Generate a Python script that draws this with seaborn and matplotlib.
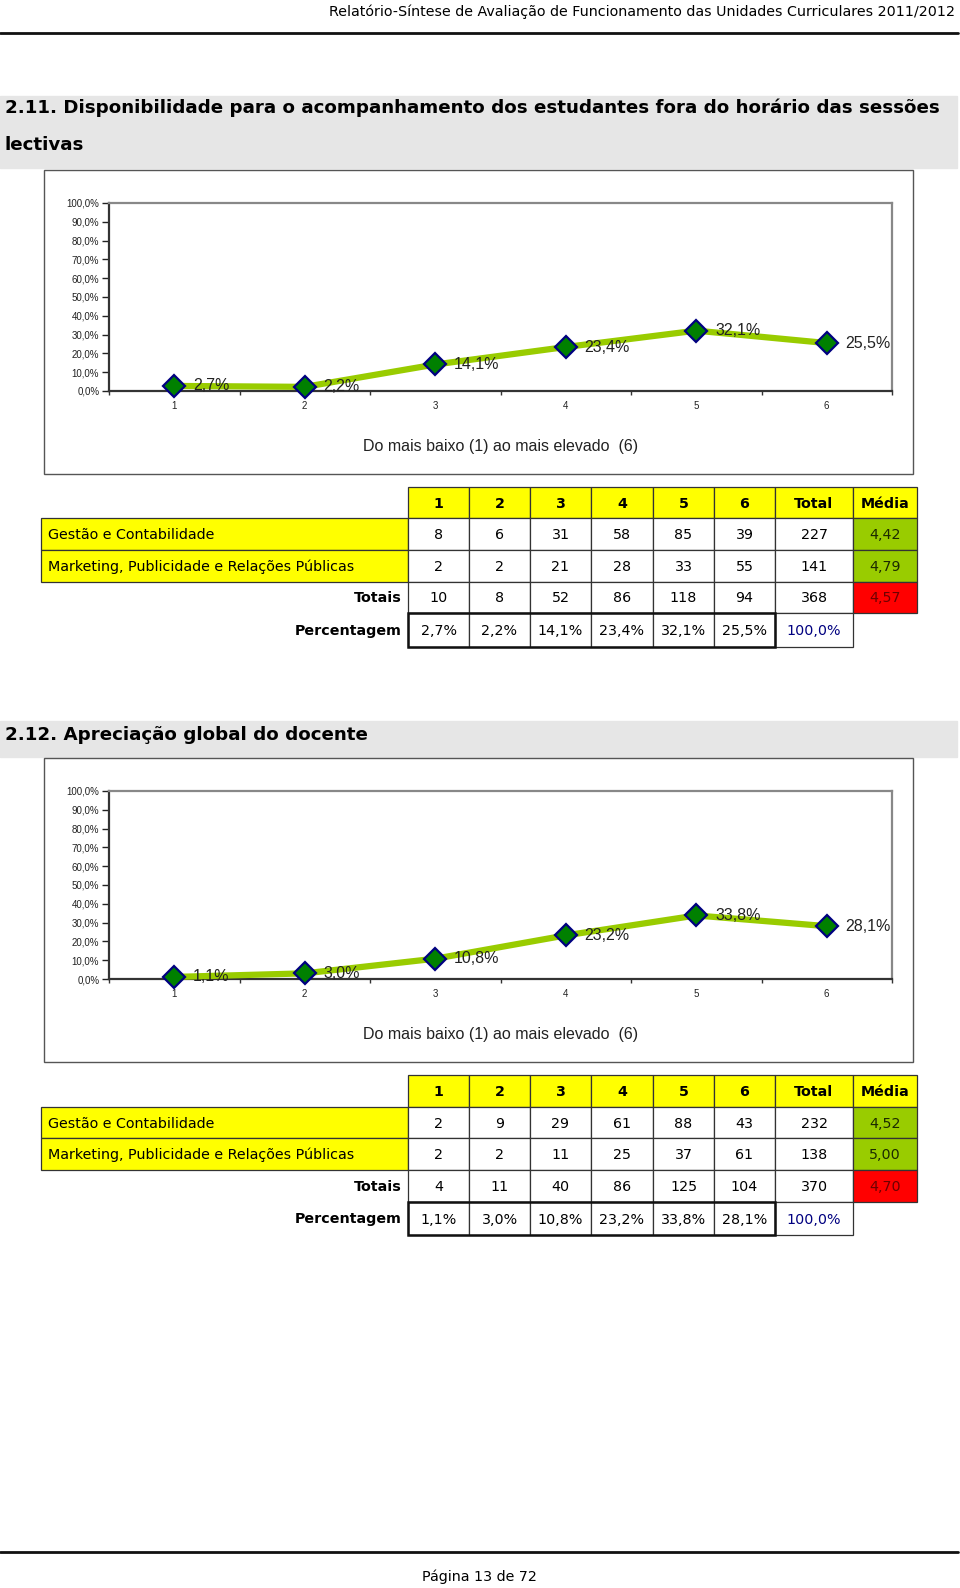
import matplotlib
matplotlib.use("Agg")
import matplotlib.pyplot as plt
import seaborn as sns
import numpy as np
import pandas as pd
from matplotlib.patches import Rectangle
from matplotlib.ticker import FuncFormatter

# ---------------- data ----------------
categories = [1, 2, 3, 4, 5, 6]
col_headers = ["1", "2", "3", "4", "5", "6", "Total", "Média"]
row_labels = ["Gestão e Contabilidade", "Marketing, Publicidade e Relações Públicas"]

# 2.11
pct_211 = [2.7, 2.2, 14.1, 23.4, 32.1, 25.5]
gc_211 = [8, 6, 31, 58, 85, 39]
gc_total_211, gc_media_211 = 227, 4.42
mp_211 = [2, 2, 21, 28, 33, 55]
mp_total_211, mp_media_211 = 141, 4.79
tot_211 = [10, 8, 52, 86, 118, 94]
tot_total_211, tot_media_211 = 368, 4.57

# 2.12
pct_212 = [1.1, 3.0, 10.8, 23.2, 33.8, 28.1]
gc_212 = [2, 9, 29, 61, 88, 43]
gc_total_212, gc_media_212 = 232, 4.52
mp_212 = [2, 2, 11, 25, 37, 61]
mp_total_212, mp_media_212 = 138, 5.00
tot_212 = [4, 11, 40, 86, 125, 104]
tot_total_212, tot_media_212 = 370, 4.70

header_text = "Relatório-Síntese de Avaliação de Funcionamento das Unidades Curriculares 2011/2012"
title_211_a = "2.11. Disponibilidade para o acompanhamento dos estudantes fora do horário das sessões"
title_211_b = "lectivas"
title_212 = "2.12. Apreciação global do docente"
xlabel_text = "Do mais baixo (1) ao mais elevado  (6)"
footer_text = "Página 13 de 72"

# ---------------- setup ----------------
sns.set_theme(style="white")
plt.rcParams["font.family"] = ["Liberation Sans", "DejaVu Sans"]

W, H = 960, 1588
fig = plt.figure(figsize=(W / 100, H / 100), dpi=100)
bg = fig.add_axes([0, 0, 1, 1], zorder=0)
bg.set_xlim(0, W)
bg.set_ylim(H, 0)
bg.axis("off")
renderer = fig.canvas.get_renderer()

TAB = "DejaVu Sans"


def fit(s, target, **kw):
    t = bg.text(0, 0, s, fontsize=10, **kw)
    w = t.get_window_extent(renderer=renderer).width
    t.remove()
    return 10 * target / w


def fmt_dec(v, nd=1):
    return f"{v:.{nd}f}".replace(".", ",")


# ---------------- header / footer ----------------
hs = fit(header_text, 626, family=TAB)
bg.text(955, 12, header_text, fontsize=hs, family=TAB, ha="right", va="center", color="#000")
bg.plot([0, 958], [33, 33], color="#111", lw=2)
bg.plot([0, 958], [1552, 1552], color="#111", lw=2)
bg.text(479, 1577, footer_text, fontsize=hs, family=TAB, ha="center", va="center", color="#000")

# ---------------- title bands ----------------
band_col = "#e6e6e6"
bg.add_patch(Rectangle((0, 96), 957, 72, color=band_col, zorder=0))
bg.add_patch(Rectangle((0, 721), 957, 36, color=band_col, zorder=0))
ts = fit(title_211_a, 937, family=TAB, weight="bold")
bg.text(5, 108, title_211_a, fontsize=ts, family=TAB, weight="bold", ha="left", va="center", color="#000")
bg.text(5, 145, title_211_b, fontsize=ts, family=TAB, weight="bold", ha="left", va="center", color="#000")
bg.text(5, 735, title_212, fontsize=ts, family=TAB, weight="bold", ha="left", va="center", color="#000")


# ---------------- charts ----------------
def draw_chart(box_top, box_bot, plot_top, plot_bot, xlabel_y, vals):
    bg.add_patch(Rectangle((44, box_top), 869, box_bot - box_top, facecolor="white",
                           edgecolor="#555", lw=1, zorder=1))
    ax = fig.add_axes([109 / W, 1 - plot_bot / H, 783 / W, (plot_bot - plot_top) / H], zorder=2)
    df = pd.DataFrame({"nivel": categories, "pct": np.array(vals) / 100})
    sns.lineplot(data=df, x="nivel", y="pct", ax=ax, color="#99CC00", lw=4.5,
                 marker="D", markersize=11, markerfacecolor="#008000",
                 markeredgecolor="#000080", markeredgewidth=1.6, clip_on=False, zorder=3)
    ax.set_xlim(0.5, 6.5)
    ax.set_ylim(0, 1)
    ax.grid(False)
    ax.set_yticks(np.linspace(0, 1, 11))
    ax.yaxis.set_major_formatter(FuncFormatter(lambda v, p: fmt_dec(v * 100) + "%"))
    ax.set_xticks(categories)
    ax.set_xticks(np.arange(0.5, 7, 1), minor=True)
    ax.tick_params(axis="y", which="major", left=True, length=5, width=1, pad=2,
                   labelsize=7, colors="#222")
    ax.tick_params(axis="x", which="major", bottom=False, length=0, pad=7, labelsize=7, colors="#222")
    ax.tick_params(axis="x", which="minor", bottom=True, length=3, width=1, color="#333")
    for side in ["left", "bottom"]:
        ax.spines[side].set_color("#333")
        ax.spines[side].set_linewidth(1.6)
    for side in ["top", "right"]:
        ax.spines[side].set_color("#888")
        ax.spines[side].set_linewidth(1.6)
    ax.set_ylabel("")
    ax.set_xlabel(xlabel_text, fontsize=11.5, color="#222")
    ax.xaxis.set_label_coords(0.5006, -(xlabel_y - plot_bot) / (plot_bot - plot_top))
    ax.xaxis.label.set_va("center")
    for x, v in zip(categories, vals):
        ax.annotate(fmt_dec(v) + "%", (x, v / 100), xytext=(13.5, 0), textcoords="offset points",
                    ha="left", va="center", fontsize=11.5, color="#222", zorder=4)
    return ax


draw_chart(170, 474, 203, 391, 446, pct_211)
draw_chart(758, 1062, 791, 979, 1034, pct_212)

# ---------------- tables ----------------
col_edges = [408, 469, 530, 591, 653, 714, 775, 853, 917]
label_left = 41
tfs = fit(row_labels[1], 306, family=TAB)
YEL, GRN, RED = "#FFFF00", "#99CC00", "#FF0000"
EDGE = "#333"


def cell(x0, x1, y0, y1, fc, text=None, color="#000", weight="normal", lw=0.9):
    bg.add_patch(Rectangle((x0, y0), x1 - x0, y1 - y0, facecolor=fc, edgecolor=EDGE, lw=lw, zorder=1))
    if text is not None:
        bg.text((x0 + x1) / 2, (y0 + y1) / 2 + 1, text, fontsize=tfs, family=TAB, weight=weight,
                ha="center", va="center", color=color, zorder=2)


def draw_table(row_edges, gc, gc_tot, gc_med, mp, mp_tot, mp_med, tot, tot_tot, tot_med, pct):
    y = row_edges
    # header
    for j, h in enumerate(col_headers):
        cell(col_edges[j], col_edges[j + 1], y[0], y[1], YEL, h, weight="bold")
    # data rows
    rows = [(row_labels[0], gc, gc_tot, gc_med), (row_labels[1], mp, mp_tot, mp_med)]
    for i, (lab, vals, t, m) in enumerate(rows):
        y0, y1 = y[i + 1], y[i + 2]
        bg.add_patch(Rectangle((label_left, y0), col_edges[0] - label_left, y1 - y0,
                               facecolor=YEL, edgecolor=EDGE, lw=0.9, zorder=1))
        bg.text(48, (y0 + y1) / 2 + 1, lab, fontsize=tfs, family=TAB, ha="left", va="center",
                color="#000", zorder=2)
        for j, v in enumerate(vals):
            cell(col_edges[j], col_edges[j + 1], y0, y1, "white", str(v))
        cell(col_edges[6], col_edges[7], y0, y1, "white", str(t))
        cell(col_edges[7], col_edges[8], y0, y1, GRN, fmt_dec(m, 2), color="#1c2a00")
    # totals
    y0, y1 = y[3], y[4]
    bg.text(402, (y0 + y1) / 2 + 1, "Totais", fontsize=tfs, family=TAB, weight="bold",
            ha="right", va="center", color="#000")
    for j, v in enumerate(tot):
        cell(col_edges[j], col_edges[j + 1], y0, y1, "white", str(v))
    cell(col_edges[6], col_edges[7], y0, y1, "white", str(tot_tot))
    cell(col_edges[7], col_edges[8], y0, y1, RED, fmt_dec(tot_med, 2), color="#6e0000")
    # percentage
    y0, y1 = y[4], y[5]
    bg.text(402, (y0 + y1) / 2 + 1, "Percentagem", fontsize=tfs, family=TAB, weight="bold",
            ha="right", va="center", color="#000")
    for j, v in enumerate(pct):
        cell(col_edges[j], col_edges[j + 1], y0, y1, "white", fmt_dec(v) + "%")
    cell(col_edges[6], col_edges[7], y0, y1, "white", fmt_dec(sum(tot) / tot_tot * 100) + "%",
         color="#000080")
    bg.add_patch(Rectangle((col_edges[0], y0), col_edges[6] - col_edges[0], y1 - y0,
                           fill=False, edgecolor="#111", lw=1.8, zorder=3))


draw_table([487, 518, 550, 582, 613, 647], gc_211, gc_total_211, gc_media_211,
           mp_211, mp_total_211, mp_media_211, tot_211, tot_total_211, tot_media_211, pct_211)
draw_table([1075, 1107, 1138, 1170, 1202, 1235], gc_212, gc_total_212, gc_media_212,
           mp_212, mp_total_212, mp_media_212, tot_212, tot_total_212, tot_media_212, pct_212)

fig.savefig("out.png", dpi=100)
